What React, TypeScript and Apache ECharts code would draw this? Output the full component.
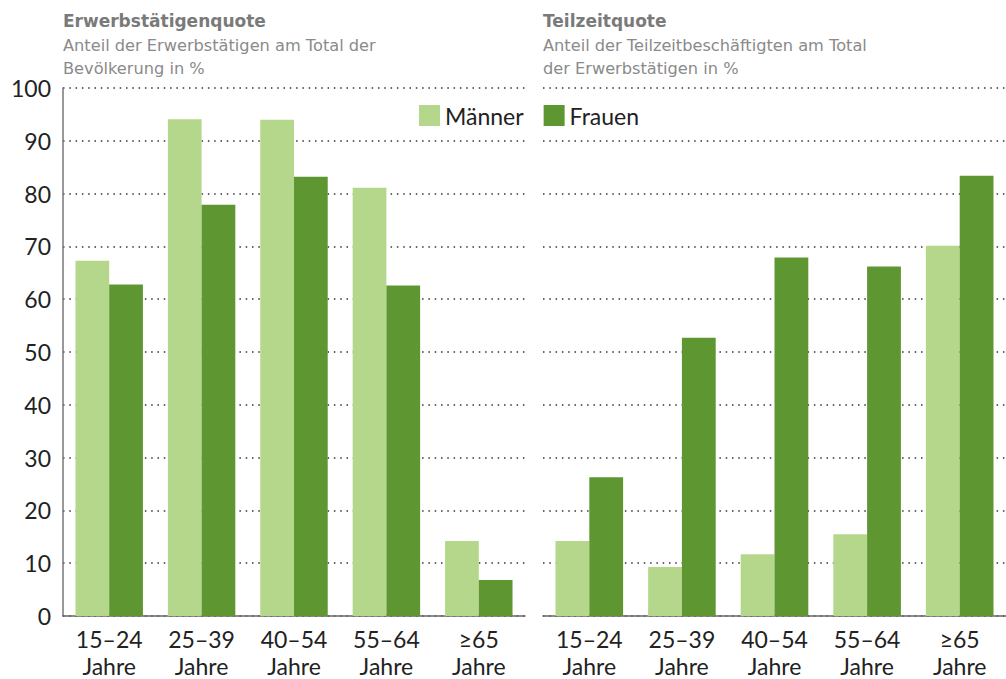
import React, { useEffect, useRef } from "react";
import * as echarts from "echarts";

const categories = ["15–24\nJahre", "25–39\nJahre", "40–54\nJahre", "55–64\nJahre", "≥65\nJahre"];
const erwMaenner = [67.3, 94.1, 94.0, 81.1, 14.2];
const erwFrauen = [62.8, 77.9, 83.2, 62.6, 6.8];
const tzMaenner = [14.2, 9.3, 11.7, 15.5, 70.1];
const tzFrauen = [26.3, 52.7, 67.9, 66.2, 83.4];
const yTicks = [0, 10, 20, 30, 40, 50, 60, 70, 80, 90, 100];

const LIGHT = "#b5d78c";
const DARK = "#5e9732";
const FONT = "Lato";
const TFONT = "DejaVu Sans";

export default function App() {
  const ref = useRef<HTMLDivElement>(null);
  useEffect(() => {
    document.body.style.margin = "0";
    const chart = echarts.init(ref.current!, null, { renderer: "svg" });
    const yAxisBase = (show: boolean) => ({
      type: "value",
      min: yTicks[0],
      max: yTicks[yTicks.length - 1],
      interval: 10,
      axisLine: { show, lineStyle: { color: "#777", width: 1.5 } },
      axisTick: { show: false },
      axisLabel: {
        show,
        fontSize: 23,
        color: "#222",
        fontFamily: FONT,
        margin: 12,
      },
      splitLine: {
        show: true,
        lineStyle: { color: "#333", width: 1.5, type: [1.5, 4.8] },
      },
    });
    const xAxisBase = (gridIndex: number) => ({
      type: "category",
      gridIndex,
      data: categories,
      axisLine: { show: true, lineStyle: { color: "#666", width: 1.5 } },
      axisTick: { show: false },
      axisLabel: {
        fontSize: 23,
        color: "#222",
        fontFamily: FONT,
        lineHeight: 27,
        margin: 9,
        interval: 0,
      },
    });
    const barBase = {
      type: "bar",
      barGap: "0%",
      barCategoryGap: "27%",
    };
    const titleStyle = { fontSize: 17, fontWeight: "bold", color: "#7a7a7a", fontFamily: TFONT };
    const subStyle = { fontSize: 16.2, color: "#8a8a8a", fontFamily: TFONT, lineHeight: 23 };
    chart.setOption({
      animation: false,
      title: [
        {
          text: "Erwerbstätigenquote",
          subtext: "Anteil der Erwerbstätigen am Total der\nBevölkerung in %",
          left: 58,
          top: 7,
          itemGap: 5,
          textStyle: titleStyle,
          subtextStyle: subStyle,
        },
        {
          text: "Teilzeitquote",
          subtext: "Anteil der Teilzeitbeschäftigten am Total\nder Erwerbstätigen in %",
          left: 538,
          top: 7,
          itemGap: 5,
          textStyle: titleStyle,
          subtextStyle: subStyle,
        },
      ],
      legend: {
        left: 414,
        top: 99,
        itemWidth: 21,
        itemHeight: 21,
        itemGap: 20,
        icon: "rect",
        textStyle: { fontSize: 23, color: "#222", fontFamily: FONT, padding: [0, 0, 0, 0] },
        data: ["Männer", "Frauen"],
      },
      grid: [
        { left: 63, top: 88, width: 462, height: 529 },
        { left: 543, top: 88, width: 463, height: 529 },
      ],
      xAxis: [xAxisBase(0), xAxisBase(1)],
      yAxis: [
        { ...yAxisBase(true), gridIndex: 0 },
        { ...yAxisBase(false), gridIndex: 1 },
      ],
      series: [
        { ...barBase, name: "Männer", xAxisIndex: 0, yAxisIndex: 0, data: erwMaenner, itemStyle: { color: LIGHT } },
        { ...barBase, name: "Frauen", xAxisIndex: 0, yAxisIndex: 0, data: erwFrauen, itemStyle: { color: DARK } },
        { ...barBase, name: "Männer", xAxisIndex: 1, yAxisIndex: 1, data: tzMaenner, itemStyle: { color: LIGHT } },
        { ...barBase, name: "Frauen", xAxisIndex: 1, yAxisIndex: 1, data: tzFrauen, itemStyle: { color: DARK } },
      ],
    });
    return () => chart.dispose();
  }, []);
  return <div ref={ref} style={{ width: 1006, height: 679 }} />;
}
